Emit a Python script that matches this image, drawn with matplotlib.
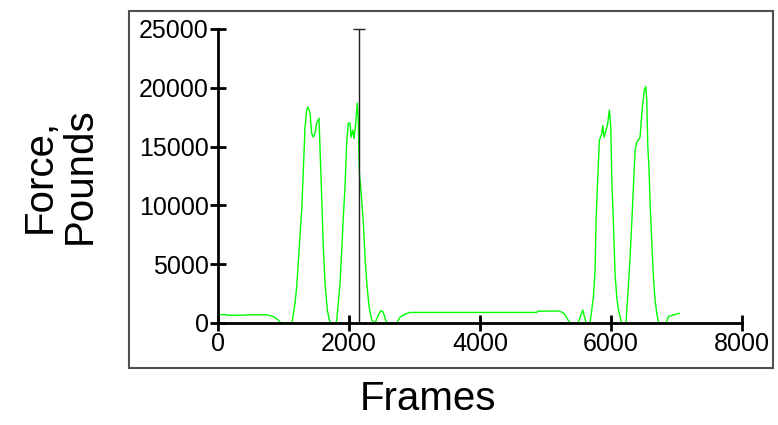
import matplotlib
matplotlib.use("Agg")
import matplotlib.pyplot as plt
from matplotlib.patches import Rectangle

# Force trace (frames vs pounds)
frames = [0, 100, 150, 400, 450, 750, 850, 920, 960, 1130, 1176, 1202, 1241, 1278,
          1303, 1328, 1354, 1370, 1390, 1405, 1431, 1455, 1481, 1507, 1542, 1558,
          1573, 1609, 1634, 1669, 1700, 1720, 1800, 1813, 1837, 1863, 1889, 1913,
          1939, 1965, 1990, 2016, 2031, 2057, 2077, 2103, 2127, 2142, 2158, 2194,
          2219, 2245, 2271, 2306, 2347, 2397, 2443, 2484, 2520, 2565, 2590, 2729,
          2780, 2860, 2932, 4866, 4880, 5196, 5260, 5299, 5344, 5375, 5497, 5569,
          5619, 5680, 5706, 5731, 5757, 5772, 5792, 5822, 5833, 5859, 5874, 5894,
          5925, 5945, 5975, 5997, 6012, 6036, 6062, 6088, 6113, 6150, 6165, 6230,
          6241, 6265, 6291, 6317, 6342, 6368, 6394, 6418, 6444, 6459, 6485, 6510,
          6531, 6546, 6562, 6581, 6597, 6623, 6647, 6673, 6699, 6723, 6740, 6841,
          6876, 6953, 7040]
force = [700, 720, 660, 660, 700, 700, 540, 250, 0, 0, 1700, 3100, 6500, 9600,
         13000, 16600, 18100, 18350, 18100, 17900, 16100, 15800, 16150, 17000, 17400, 14700,
         12400, 6200, 3400, 1100, 250, 0, 0, 250, 1700, 3400, 6200, 9000,
         11600, 15400, 17000, 17000, 15800, 16400, 15700, 17000, 18700, 17300, 12800, 10500,
         8500, 5600, 3400, 1400, 250, 0, 600, 1050, 950, 170, 0, 0,
         500, 770, 900, 900, 1000, 1020, 900, 700, 250, 0, 0, 1100,
         0, 0, 1100, 2200, 4500, 8700, 11600, 15500, 15700, 16100, 16800, 15800,
         16400, 16800, 18100, 16700, 12200, 8700, 4200, 2200, 1100, 250, 0, 0,
         1100, 3100, 5600, 8500, 11600, 14700, 15400, 15550, 15800, 17000, 18700, 19800,
         20100, 19000, 15000, 13000, 10200, 6800, 3900, 1950, 820, 100, 0, 0,
         540, 680, 820]

# Cursor marker
cursor_frame = 2160
cursor_top = 25000

x_ticks = [0, 2000, 4000, 6000, 8000]
y_ticks = [0, 5000, 10000, 15000, 20000, 25000]
x_label = "Frames"
y_label = "Force,\nPounds"

W, H = 778, 425
plt.rcParams['font.family'] = ['Liberation Sans', 'DejaVu Sans']
fig = plt.figure(figsize=(W / 100, H / 100), dpi=100)

def fx(px):
    return px / W

def fy(py):
    return 1 - py / H

ax = fig.add_axes([fx(218), fy(323), fx(742) - fx(218), fy(29) - fy(323)])
ax.plot(frames, force, color='#00ff00', lw=1.0, zorder=2)
ax.plot([cursor_frame, cursor_frame], [0, cursor_top], color='#202020', lw=1.0, zorder=2)
ax.plot([cursor_frame], [cursor_top], marker='_', ms=9, mew=1.0, color='#202020', zorder=2,
        clip_on=False)

ax.set_xlim(0, 8000)
ax.set_ylim(0, 25000)
ax.set_xticks(x_ticks)
ax.set_yticks(y_ticks)
ax.set_xticklabels([str(t) for t in x_ticks])
ax.set_yticklabels([str(t) for t in y_ticks])
for s in ['top', 'right']:
    ax.spines[s].set_visible(False)
for s in ['left', 'bottom']:
    ax.spines[s].set_linewidth(2.0)
    ax.spines[s].set_color('black')
ax.tick_params(direction='inout', length=11, width=2.0, labelsize=18, pad=1,
               colors='black')
ax.patch.set_alpha(0)

# Outer frame
fig.patches.append(Rectangle((fx(129), fy(368)), fx(773) - fx(129), fy(11) - fy(368),
                             transform=fig.transFigure, fill=False,
                             edgecolor='#505050', lw=1.5))

fig.text(fx(428), fy(410), x_label, fontsize=29, ha='center', va='baseline')
fig.text(fx(60), fy(176), y_label, fontsize=29, ha='center', va='center',
         rotation=90, linespacing=1.05, multialignment='center')

fig.savefig("out.png", dpi=100)
